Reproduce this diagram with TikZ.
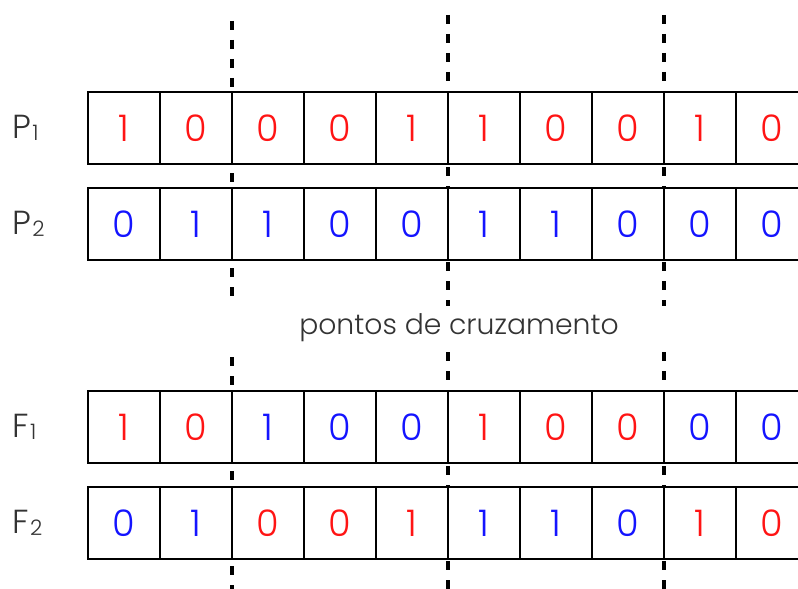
\documentclass[tikz,border=0pt]{standalone}
\usepackage{fontspec}
\setmainfont{Poppins}[UprightFont={* Light}]
\definecolor{R}{RGB}{255,20,20}
\definecolor{B}{RGB}{20,20,255}
\definecolor{txt}{RGB}{51,51,51}
\newcommand{\lab}[2]{#1\hspace{1pt}\raisebox{-2pt}{\fontsize{16}{16}\selectfont #2}}
\begin{document}
\begin{tikzpicture}[x=0.75pt,y=-0.75pt,
  cell/.style={draw=black,fill=white,line width=1.5pt,minimum width=54pt,minimum height=54pt,inner sep=0pt,
    font=\fontsize{27.5}{27.5}\selectfont,anchor=center},
  rowlab/.style={anchor=west,text=txt,font=\fontsize{25}{25}\selectfont,inner sep=0pt},
  cut/.style={line width=2.6pt,dash pattern=on 6.75pt off 7.5pt}]
\useasboundingbox (0,0) rectangle (798,588);
% crossover points (drawn first, behind the cells)
\coordinate (c1t) at (232,21);  \coordinate (c1m) at (232,306);
\coordinate (c1n) at (232,357); \coordinate (c1b) at (232,590);
\coordinate (c2t) at (448,15);  \coordinate (c2m) at (448,306);
\coordinate (c2n) at (448,352); \coordinate (c2b) at (448,590);
\coordinate (c3t) at (664,15);  \coordinate (c3m) at (664,306);
\coordinate (c3n) at (664,352); \coordinate (c3b) at (664,590);
\draw[cut] (c1t) -- (c1m);
\draw[cut] (c1n) -- (c1b);
\draw[cut] (c2t) -- (c2m);
\draw[cut] (c2n) -- (c2b);
\draw[cut] (c3t) -- (c3m);
\draw[cut] (c3n) -- (c3b);
% P1
\foreach \c/\v [count=\i] in {R/1,R/0,R/0,R/0,R/1,R/1,R/0,R/0,R/1,R/0}
  \node[cell,text=\c] (pa\i) at ({88+72*(\i-0.5)},128) {\v};
% P2
\foreach \c/\v [count=\i] in {B/0,B/1,B/1,B/0,B/0,B/1,B/1,B/0,B/0,B/0}
  \node[cell,text=\c] (pb\i) at ({88+72*(\i-0.5)},224) {\v};
% F1
\foreach \c/\v [count=\i] in {R/1,R/0,B/1,B/0,B/0,R/1,R/0,R/0,B/0,B/0}
  \node[cell,text=\c] (fa\i) at ({88+72*(\i-0.5)},427) {\v};
% F2
\foreach \c/\v [count=\i] in {B/0,B/1,R/0,R/0,R/1,B/1,B/1,B/0,R/1,R/0}
  \node[cell,text=\c] (fb\i) at ({88+72*(\i-0.5)},523) {\v};
% labels
\node[rowlab] (lp1) at (12,128) {\lab{P}{1}};
\node[rowlab] (lp2) at (12,224) {\lab{P}{2}};
\node[rowlab] (lf1) at (12,427) {\lab{F}{1}};
\node[rowlab] (lf2) at (12,523) {\lab{F}{2}};
\node[text=txt,font=\fontsize{21.2}{21.2}\selectfont,inner sep=0pt] (cap) at (459,328) {pontos de cruzamento};
\end{tikzpicture}
\end{document}
